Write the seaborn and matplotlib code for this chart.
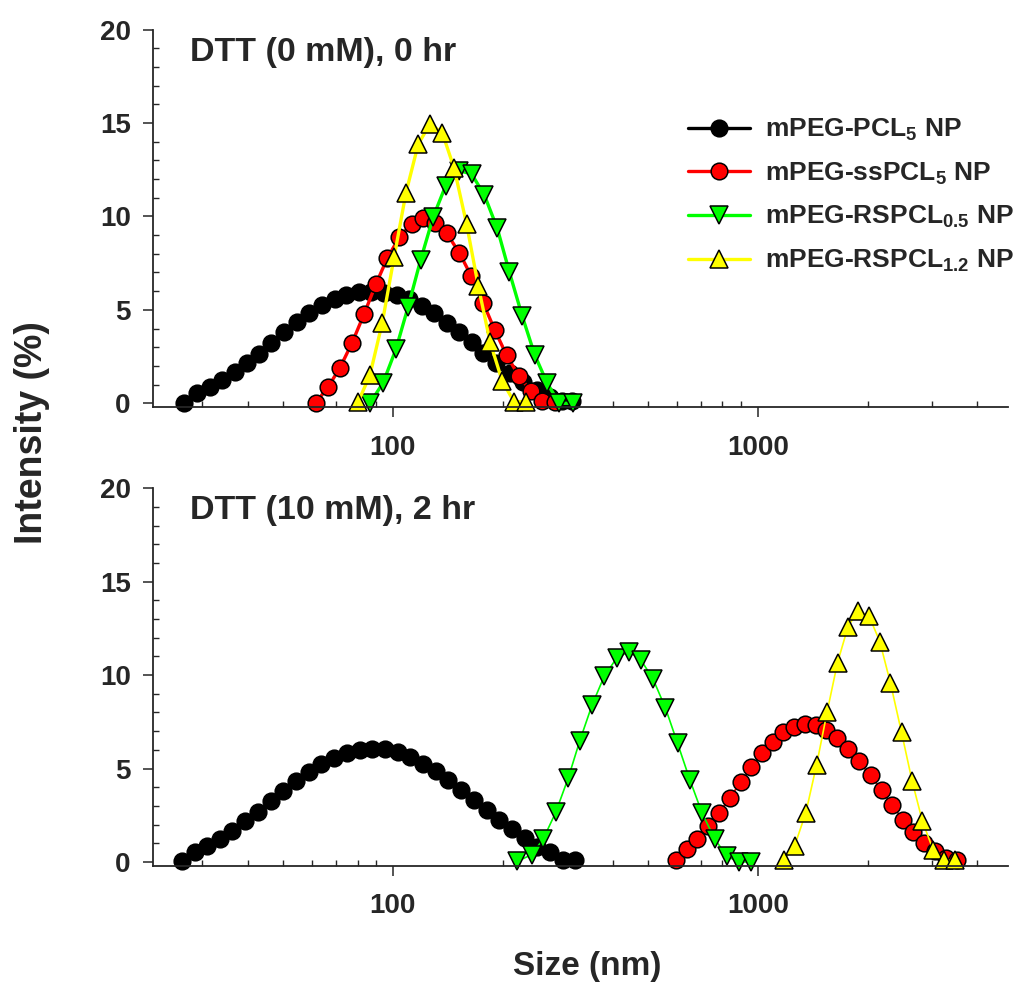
import matplotlib
matplotlib.use("Agg")
import matplotlib.pyplot as plt
import seaborn as sns
import pandas as pd
from matplotlib.ticker import FixedLocator, FixedFormatter, MultipleLocator, NullFormatter

# ---------------- data ----------------
labels = [r"mPEG-PCL$_{5}$ NP", r"mPEG-ssPCL$_{5}$ NP",
          r"mPEG-RSPCL$_{0.5}$ NP", r"mPEG-RSPCL$_{1.2}$ NP"]
colors = ["#000000", "#FF0000", "#00FF00", "#FFFF00"]
markers = ["o", "o", "v", "^"]

# Panel 1: DTT (0 mM), 0 hr
size_pcl5_0 = [26.8, 29.1, 31.5, 34.0, 36.8, 39.7, 42.9, 46.4, 50.3, 54.5, 59.0, 63.9,
               69.2, 74.6, 80.8, 87.3, 94.5, 102.4, 110.8, 119.9, 129.8, 140.3, 151.9,
               164.5, 176.7, 192.2, 209.2, 227.6, 247.6, 269.3, 289.8, 309.0]
int_pcl5_0 = [0.03, 0.57, 0.89, 1.25, 1.66, 2.14, 2.64, 3.24, 3.83, 4.37, 4.82, 5.26,
              5.58, 5.79, 5.94, 5.96, 5.92, 5.79, 5.58, 5.22, 4.82, 4.31, 3.80, 3.26,
              2.68, 2.14, 1.64, 1.16, 0.71, 0.35, 0.14, 0.12]
size_sspcl5_0 = [61.5, 66.5, 71.6, 77.3, 83.3, 89.8, 96.5, 104.1, 112.5, 121.0, 130.3,
                 140.3, 152.0, 163.7, 176.7, 190.1, 204.9, 221.4, 238.4, 257.0, 277.7]
int_sspcl5_0 = [0.03, 0.89, 1.90, 3.24, 4.76, 6.37, 7.76, 8.88, 9.59, 9.93, 9.66,
                9.10, 8.06, 6.83, 5.38, 3.92, 2.57, 1.46, 0.67, 0.12, 0.05]
size_rs05_0 = [86.5, 94.0, 101.9, 110.1, 119.1, 129.0, 139.4, 151.6, 164.3, 178.0,
               193.2, 208.4, 226.1, 244.8, 264.8, 285.7, 310.6]
int_rs05_0 = [0.0, 1.10, 2.89, 5.17, 7.67, 9.98, 11.63, 12.45, 12.27, 11.15, 9.36,
              7.04, 4.67, 2.58, 1.07, 0.0, 0.0]
size_rs12_0 = [80.4, 86.5, 93.5, 100.8, 108.6, 117.3, 126.3, 136.5, 147.2, 159.2,
               171.3, 184.5, 199.3, 214.6, 231.4]
int_rs12_0 = [0.09, 1.51, 4.31, 7.84, 11.27, 13.86, 14.94, 14.48, 12.57, 9.58, 6.29,
              3.30, 1.19, 0.09, 0.09]

# Panel 2: DTT (10 mM), 2 hr
size_pcl5_2 = [26.4, 28.6, 31.0, 33.5, 36.3, 39.4, 42.7, 46.2, 50.0, 54.2, 58.7, 63.7,
               69.0, 74.7, 81.0, 87.7, 95.1, 103.0, 111.6, 120.9, 131.0, 141.9, 153.8,
               166.6, 180.5, 195.6, 211.9, 229.6, 248.8, 269.6, 292.1, 316.5]
int_pcl5_2 = [0.05, 0.52, 0.86, 1.22, 1.68, 2.17, 2.67, 3.24, 3.78, 4.32, 4.80, 5.27,
              5.57, 5.84, 5.99, 6.06, 6.02, 5.88, 5.61, 5.27, 4.86, 4.37, 3.87, 3.33,
              2.80, 2.26, 1.76, 1.27, 0.82, 0.55, 0.11, 0.11]
size_sspcl5_2 = [595.3, 637.8, 682.4, 731.6, 782.4, 838.4, 898.6, 961.0, 1027.9, 1097.6,
                 1173.3, 1255.1, 1345.0, 1439.4, 1542.2, 1648.6, 1767.3, 1890.0, 2036.8,
                 2183.6, 2334.6, 2502.5, 2662.2, 2848.7, 3054.0, 3288.9, 3515.6]
int_sspcl5_2 = [0.09, 0.71, 1.23, 1.90, 2.62, 3.45, 4.28, 5.08, 5.83, 6.42, 6.93, 7.25,
                7.38, 7.34, 7.07, 6.66, 6.06, 5.38, 4.63, 3.83, 3.03, 2.26, 1.58, 1.02,
                0.57, 0.21, 0.12]
size_rs05_2 = [219.0, 239.9, 258.2, 279.3, 302.3, 325.2, 351.5, 379.2, 410.2, 443.3,
               478.0, 516.4, 558.4, 602.5, 651.2, 703.5, 762.0, 823.6, 887.2, 955.3]
int_rs05_2 = [0.03, 0.39, 1.23, 2.65, 4.49, 6.49, 8.41, 9.93, 10.91, 11.26, 10.82,
              9.79, 8.24, 6.36, 4.40, 2.62, 1.23, 0.30, 0.0, 0.0]
size_rs12_2 = [1180.6, 1262.0, 1353.5, 1449.2, 1549.5, 1653.8, 1767.8, 1882.9, 2017.3,
               2159.4, 2310.4, 2477.3, 2649.4, 2827.0, 3022.6, 3233.4, 3465.5]
int_rs12_2 = [0.12, 0.87, 2.62, 5.20, 8.05, 10.67, 12.60, 13.45, 13.17, 11.80, 9.57,
              6.93, 4.31, 2.17, 0.66, 0.09, 0.09]

panel_titles = ["DTT (0 mM), 0 hr", "DTT (10 mM), 2 hr"]
x_major = [100, 1000]
x_major_labels = ["100", "1000"]
x_minor = [30, 40, 50, 60, 70, 80, 90, 200, 300, 400, 500, 600, 700, 800, 900,
           2000, 3000, 4000]

panels = [
    [(size_pcl5_0, int_pcl5_0), (size_sspcl5_0, int_sspcl5_0),
     (size_rs05_0, int_rs05_0), (size_rs12_0, int_rs12_0)],
    [(size_pcl5_2, int_pcl5_2), (size_sspcl5_2, int_sspcl5_2),
     (size_rs05_2, int_rs05_2), (size_rs12_2, int_rs12_2)],
]

# ---------------- style ----------------
sns.set_style("ticks")
plt.rcParams["font.family"] = ["Liberation Sans", "DejaVu Sans"]
plt.rcParams["font.weight"] = "bold"
plt.rcParams["mathtext.fontset"] = "custom"
plt.rcParams["mathtext.rm"] = "Liberation Sans:bold"
plt.rcParams["mathtext.it"] = "Liberation Sans:bold"
plt.rcParams["mathtext.bf"] = "Liberation Sans:bold"
plt.rcParams["mathtext.default"] = "rm"

fig = plt.figure(figsize=(10.2, 9.85), dpi=100)
L, R = 153 / 1020, 1008 / 1020
ax_top = fig.add_axes([L, 1 - 407 / 985, R - L, (407 - 29.5) / 985])
ax_bot = fig.add_axes([L, 1 - 865.7 / 985, R - L, (865.7 - 488.3) / 985])

line_w = [2.4, 1.2]
msize = {"o": 12.0, "v": 13.0, "^": 13.0}

for p, ax in enumerate([ax_top, ax_bot]):
    for (xs, ys), lab, col, mk in zip(panels[p], labels, colors, markers):
        df = pd.DataFrame({"nm": xs, "intensity": ys})
        sns.lineplot(data=df, x="nm", y="intensity", ax=ax, color=col,
                     marker=mk, markeredgecolor="black",
                     markeredgewidth=1.1, linewidth=line_w[p], estimator=None,
                     sort=False, label=lab if p == 0 else None, clip_on=False)
    for ln in ax.lines:
        m = ln.get_marker()
        if m in msize:
            ln.set_markersize(msize[m])
            ln.set_markeredgecolor("black")
            ln.set_markeredgewidth(1.1)
    ax.set_xscale("log")
    ax.set_xlim(22, 4850)
    ax.set_ylim(-0.2, 20)
    ax.xaxis.set_major_locator(FixedLocator(x_major))
    ax.xaxis.set_major_formatter(FixedFormatter(x_major_labels))
    ax.xaxis.set_minor_locator(FixedLocator(x_minor))
    ax.xaxis.set_minor_formatter(NullFormatter())
    ax.yaxis.set_major_locator(MultipleLocator(5))
    ax.yaxis.set_minor_locator(MultipleLocator(1))
    ax.tick_params(which="major", direction="out", length=7, width=1.1,
                   labelsize=20, pad=4)
    ax.tick_params(axis="x", which="major", pad=13)
    ax.tick_params(axis="y", which="major", pad=9)
    ax.tick_params(which="minor", direction="in", length=4.5, width=1.0)
    for lbl in ax.get_xticklabels() + ax.get_yticklabels():
        lbl.set_fontweight("bold")
    ax.set_xlabel("")
    ax.set_ylabel("")
    sns.despine(ax=ax)
    ax.spines["left"].set_linewidth(1.3)
    ax.spines["bottom"].set_linewidth(1.3)
    ax.set_facecolor("white")
    if ax.get_legend() is not None:
        ax.get_legend().remove()

fig.text(190 / 1020, 1 - 61 / 985, panel_titles[0], fontsize=24.5, fontweight="bold",
         va="baseline", ha="left")
fig.text(190 / 1020, 1 - 519 / 985, panel_titles[1], fontsize=24.5, fontweight="bold",
         va="baseline", ha="left")

handles, labs = ax_top.get_legend_handles_labels()
for h, mk in zip(handles, markers):
    h.set_markersize(msize[mk])
    h.set_markeredgecolor("black")
fig.legend(handles, labs, loc="upper left", bbox_to_anchor=(688 / 1020, 1 - 117 / 985),
           frameon=False, handlelength=2.35, handletextpad=0.55,
           labelspacing=0.66, borderpad=0, borderaxespad=0,
           prop={"weight": "bold", "size": 19})

fig.text(32 / 1020, 1 - 433 / 985, "Intensity (%)", rotation=90, fontsize=27,
         fontweight="bold", ha="center", va="center")
fig.text(587 / 1020, 1 - 966 / 985, "Size (nm)", fontsize=24, fontweight="bold",
         ha="center", va="center")

fig.savefig("out.png", dpi=100, facecolor="white")
